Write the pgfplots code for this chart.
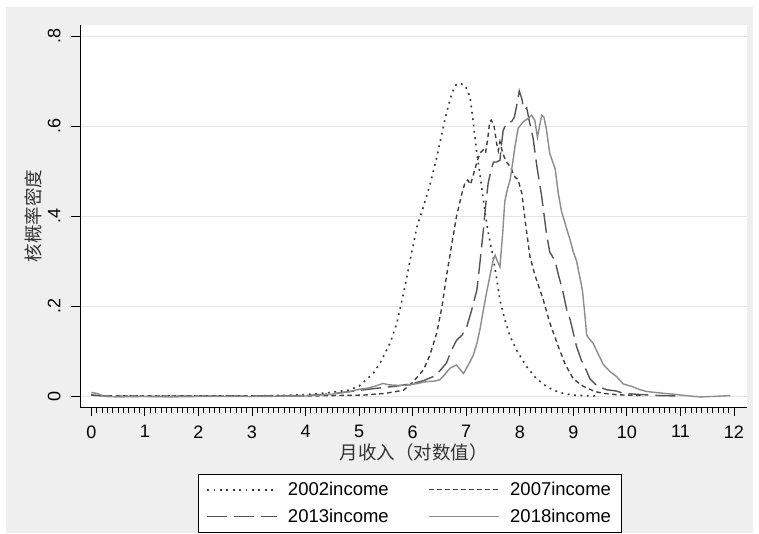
\documentclass[border=0pt]{standalone}
\usepackage{fontspec}
\usepackage{pgfplots}
\pgfplotsset{compat=1.18}
\setmainfont{Liberation Sans}
\newfontfamily\cjk{Noto Sans CJK SC}
\definecolor{bggray}{HTML}{EFEFEF}
\definecolor{gridc}{HTML}{E6E6E6}
\definecolor{cA}{HTML}{383838}
\definecolor{cB}{HTML}{404040}
\definecolor{cC}{HTML}{555555}
\definecolor{cD}{HTML}{8C8C8C}
\begin{document}
\begin{tikzpicture}[x=1pt,y=1pt]
\fill[white] (0,0) rectangle (759,533);
\fill[bggray] (6,0) rectangle (753,526);
\begin{axis}[
  at={(80pt,126pt)}, anchor=south west,
  scale only axis, width=667pt, height=382pt,
  xmin=-0.211, xmax=12.243, ymin=-0.0244, ymax=0.8244,
  axis background/.style={fill=white},
  axis x line*=bottom, axis y line*=left,
  axis line style={black, line width=0.9pt},
  tick align=outside,
  major tick length=9pt, minor tick length=5.5pt,
  every tick/.style={black, line width=0.8pt},
  xtick={0,1,...,12}, minor x tick num=9,
  ytick={0,0.2,0.4,0.6,0.8}, yticklabels={0,.2,.4,.6,.8},
  ymajorgrids, grid style={gridc, line width=0.9pt},
  /pgf/number format/assume math mode=true,
  tick label style={font=\fontsize{18}{21}\selectfont},
  xticklabel style={yshift=-6pt},
  yticklabel style={rotate=90, anchor=south, yshift=7pt},
  xlabel={\cjk 月收入（对数值）},
  ylabel={\cjk 核概率密度},
  label style={font=\fontsize{18.5}{21}\selectfont, color=black!80},
  xlabel style={at={(axis description cs:0.5,-0.118)}, anchor=center},
  ylabel style={at={(axis description cs:-0.0705,0.5)}, anchor=center},
  legend columns=2,
  legend cell align=left,
  legend image code/.code={\draw[#1] (0pt,0pt) -- (70pt,0pt);},
  legend style={draw=black, line width=0.8pt, fill=white,
    at={(0.1769,-0.175)}, anchor=north west,
    font=\fontsize{18.5}{21}\selectfont,
    inner xsep=8pt, inner ysep=6pt, row sep=8pt,
    /tikz/every odd column/.append style={column sep=8pt},
    /tikz/every even column/.append style={column sep=38pt}},
]
\addplot[cA, line width=1.6pt, dash pattern=on 1.8pt off 4.6pt] coordinates {
(0,0.003) (0.25,0.0) (1,0.0) (2,0.0) (3,0.0) (3.8,0.002) (4.1,0.004) (4.4,0.007)
(4.8,0.013) (5.0,0.022) (5.27,0.051) (5.4,0.075) (5.58,0.118) (5.7,0.16) (5.83,0.228)
(5.95,0.30) (6.08,0.376) (6.2,0.42) (6.33,0.473) (6.45,0.53) (6.6,0.613) (6.7,0.66)
(6.79,0.69) (6.88,0.695) (6.98,0.69) (7.07,0.665) (7.13,0.61) (7.19,0.547) (7.26,0.49)
(7.32,0.436) (7.40,0.37) (7.50,0.31) (7.57,0.26) (7.63,0.213) (7.72,0.17) (7.82,0.132)
(7.95,0.10) (8.13,0.065) (8.3,0.04) (8.50,0.021) (8.65,0.012) (8.81,0.006) (9.0,0.002)
(9.4,0.0)
};
\addlegendentry{2002income}
\addplot[cB, line width=1.4pt, dash pattern=on 4.5pt off 3.5pt] coordinates {
(0,0.002) (0.3,0.0) (1,0.0) (2,0.0) (3,0.0) (4,0.0) (4.5,0.001) (5.08,0.002) (5.5,0.006)
(5.83,0.013) (6.0,0.03) (6.20,0.058) (6.32,0.09) (6.45,0.14) (6.55,0.20) (6.63,0.265)
(6.72,0.33) (6.82,0.40) (6.92,0.45) (6.98,0.475) (7.03,0.48) (7.08,0.47) (7.13,0.49)
(7.2,0.52) (7.26,0.54) (7.32,0.547) (7.36,0.54) (7.40,0.57) (7.44,0.61) (7.47,0.613)
(7.52,0.60) (7.57,0.56) (7.60,0.545) (7.63,0.565) (7.68,0.54) (7.75,0.52) (7.82,0.51)
(7.91,0.487) (7.97,0.48) (8.04,0.45) (8.10,0.39) (8.19,0.31) (8.28,0.27) (8.44,0.213)
(8.56,0.163) (8.72,0.11) (8.85,0.07) (9.0,0.038) (9.18,0.022) (9.4,0.01) (9.56,0.006)
(9.8,0.003) (10,0.002) (10.3,0.001)
};
\addlegendentry{2007income\hspace{6pt}}
\addplot[cC, line width=1.4pt, dash pattern=on 20pt off 7pt] coordinates {
(0,0.002) (0.3,0.0) (1,-0.001) (2,0.0) (3,0.0) (4,0.001) (4.5,0.005) (4.83,0.01)
(5.1,0.014) (5.39,0.018) (5.7,0.022) (6.01,0.028) (6.2,0.034) (6.38,0.043) (6.5,0.055)
(6.63,0.073) (6.72,0.10) (6.82,0.124) (6.92,0.135) (7.01,0.154) (7.1,0.19) (7.20,0.236)
(7.26,0.30) (7.32,0.369) (7.36,0.42) (7.41,0.473) (7.46,0.50) (7.51,0.52) (7.57,0.52)
(7.63,0.524) (7.66,0.56) (7.69,0.59) (7.75,0.605) (7.85,0.61) (7.9,0.62) (7.95,0.65)
(7.99,0.678) (8.04,0.66) (8.07,0.64) (8.10,0.636) (8.13,0.64) (8.18,0.61) (8.25,0.572)
(8.32,0.51) (8.41,0.443) (8.50,0.36) (8.56,0.32) (8.66,0.30) (8.72,0.27) (8.80,0.235)
(8.88,0.19) (8.94,0.17) (9.0,0.14) (9.06,0.11) (9.15,0.08) (9.25,0.055) (9.31,0.038)
(9.45,0.022) (9.62,0.014) (9.81,0.011) (9.93,0.006) (10.3,0.003) (10.6,0.001) (11,0.0)
};
\addlegendentry{2013income}
\addplot[cD, line width=1.4pt] coordinates {
(0,0.008) (0.1,0.006) (0.25,-0.001) (0.5,-0.002) (1,-0.001) (1.5,-0.002) (2,-0.001)
(3,-0.001) (4,0.0) (4.5,0.004) (4.83,0.01) (5.0,0.015) (5.14,0.017) (5.3,0.022)
(5.45,0.028) (5.55,0.025) (5.70,0.024) (5.89,0.024) (6.1,0.028) (6.26,0.032) (6.4,0.033)
(6.51,0.036) (6.6,0.048) (6.70,0.062) (6.82,0.069) (6.88,0.06) (6.95,0.05) (7.02,0.065)
(7.07,0.076) (7.13,0.09) (7.20,0.117) (7.26,0.15) (7.32,0.191) (7.38,0.23) (7.44,0.265)
(7.50,0.30) (7.54,0.313) (7.58,0.30) (7.63,0.287) (7.68,0.36) (7.72,0.432) (7.77,0.46)
(7.82,0.48) (7.87,0.52) (7.91,0.554) (7.97,0.595) (8.07,0.61) (8.16,0.617) (8.22,0.624)
(8.28,0.613) (8.33,0.575) (8.37,0.60) (8.41,0.624) (8.45,0.62) (8.50,0.591) (8.56,0.539)
(8.66,0.505) (8.72,0.45) (8.78,0.41) (8.88,0.37) (8.94,0.347) (9.0,0.32) (9.06,0.30)
(9.12,0.265) (9.17,0.235) (9.22,0.175) (9.25,0.135) (9.30,0.127) (9.37,0.117)
(9.45,0.097) (9.56,0.07) (9.68,0.055) (9.81,0.043) (9.93,0.027) (10.1,0.021)
(10.25,0.014) (10.37,0.01) (10.6,0.007) (10.87,0.004) (11.1,0.001) (11.36,-0.002)
(11.6,-0.001) (11.93,0.001)
};
\addlegendentry{2018income\hspace{6pt}}
\end{axis}
\end{tikzpicture}
\end{document}
